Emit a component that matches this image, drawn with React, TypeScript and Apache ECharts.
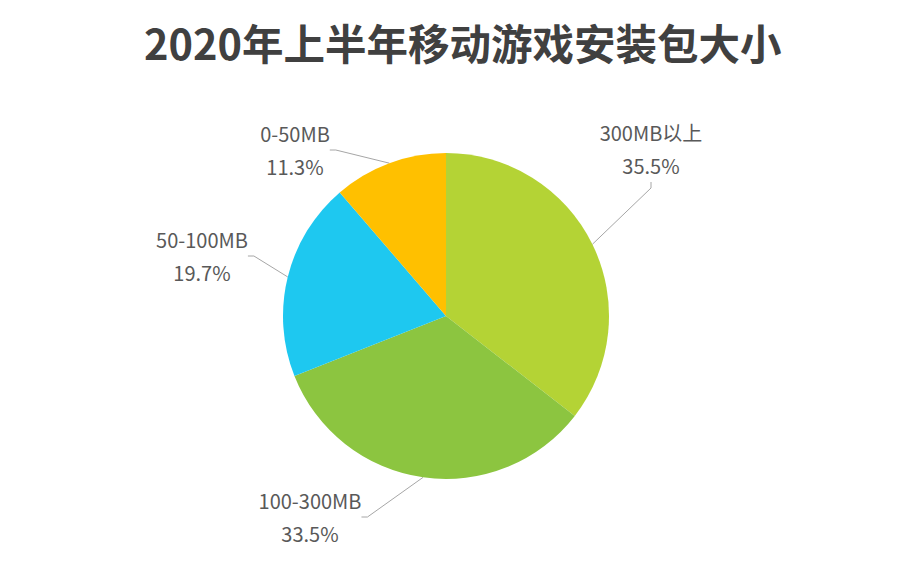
import React, { useEffect, useRef } from "react";
import * as echarts from "echarts";

const categories = ["300MB以上", "100-300MB", "50-100MB", "0-50MB"];
const shares = [35.5, 33.5, 19.7, 11.3];
const colors = ["#b4d335", "#8cc540", "#1ec8f0", "#ffc000"];
const titleText = "2020年上半年移动游戏安装包大小";

// label block centres (layout only)
const labelPos = [
  { x: 651, y: 149 },
  { x: 310, y: 517 },
  { x: 202, y: 256 },
  { x: 295, y: 150 },
];

export default function App() {
  const ref = useRef<HTMLDivElement>(null);
  useEffect(() => {
    if (!ref.current) return;
    const chart = echarts.init(ref.current, undefined, { renderer: "svg" });
    chart.setOption({
      animation: false,
      backgroundColor: "#ffffff",
      title: {
        text: titleText,
        left: 139,
        top: 16,
        textStyle: {
          fontFamily: "Noto Sans CJK SC",
          fontSize: 41.5,
          fontWeight: "bold",
          color: "#404040",
        },
      },
      series: [
        {
          type: "pie",
          center: [446, 316],
          radius: [0, 163],
          startAngle: 90,
          clockwise: true,
          data: categories.map((c, i) => ({
            name: c,
            value: shares[i],
            itemStyle: { color: colors[i] },
          })),
          label: {
            show: true,
            formatter: (p: any) => `${p.name}\n${p.value.toFixed(1)}%`,
            fontFamily: "Noto Sans CJK SC",
            fontSize: 20,
            lineHeight: 33,
            color: "#595959",
            align: "center",
          },
          labelLine: {
            show: true,
            length: 15,
            length2: 6,
            lineStyle: { color: "#a6a6a6", width: 1 },
          },
          labelLayout: (p: any) => ({
            x: labelPos[p.dataIndex].x,
            y: labelPos[p.dataIndex].y,
            align: "center",
            verticalAlign: "middle",
          }),
        },
      ],
    });
    return () => chart.dispose();
  }, []);
  return (
    <div
      ref={ref}
      style={{ position: "absolute", left: 0, top: 0, width: 900, height: 569 }}
    />
  );
}
